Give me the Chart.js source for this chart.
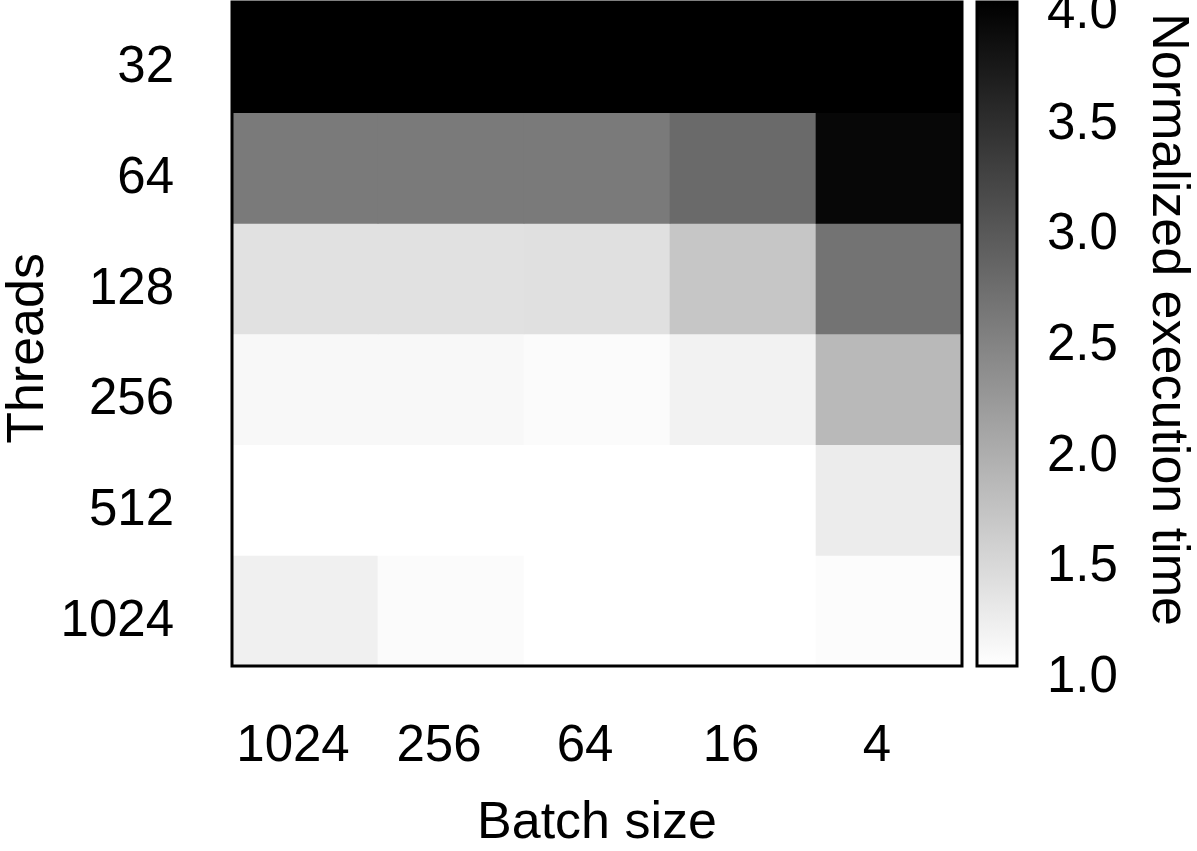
<!DOCTYPE html>
<html lang="en">
<head>
<meta charset="UTF-8">
<title>Normalized execution time</title>
<script src="https://cdn.jsdelivr.net/npm/chart.js"></script>
<style>
    html, body { margin: 0; padding: 0; background: #fff; }
    #wrap { position: relative; width: 1197px; height: 851px; overflow: hidden; }
    #heatCanvas { position: absolute; left: 0; top: 0; }
    #barCanvas { position: absolute; left: 965px; top: 0; }
</style>
</head>
<body>
<div id="wrap">
    <canvas id="heatCanvas" width="965" height="851" style="width:965px;height:851px"></canvas>
    <canvas id="barCanvas" width="232" height="851" style="width:232px;height:851px"></canvas>
</div>
<script>
// rows = threads (top to bottom), columns = batch size (left to right)
const threads = ['32', '64', '128', '256', '512', '1024'];
const batchSizes = ['1024', '256', '64', '16', '4'];

const time32   = [4.00, 4.00, 4.00, 4.00, 4.00];
const time64   = [2.56, 2.56, 2.57, 2.75, 3.92];
const time128  = [1.35, 1.35, 1.37, 1.67, 2.65];
const time256  = [1.08, 1.08, 1.05, 1.15, 1.82];
const time512  = [1.00, 1.00, 1.00, 1.00, 1.22];
const time1024 = [1.18, 1.05, 1.00, 1.00, 1.04];

const colorbarTicks = [1.0, 1.5, 2.0, 2.5, 3.0, 3.5, 4.0];
const vMin = 1.0, vMax = 4.0;

const rows = [time32, time64, time128, time256, time512, time1024];

const FONT = '"Liberation Sans", Arial, Helvetica, sans-serif';
Chart.defaults.font.family = FONT;
Chart.defaults.color = '#000';

const tickFont = { size: 51 };
const titleFont = { size: 52, lineHeight: 1.05 };

// white (low) -> black (high)
function grayFor(v) {
    const t = Math.min(1, Math.max(0, (v - vMin) / (vMax - vMin)));
    const g = Math.round(255 * (1 - t));
    return 'rgb(' + g + ',' + g + ',' + g + ')';
}

// no extra room for overhanging tick labels
function noPad(s) {
    s.paddingTop = 0;
    s.paddingBottom = 0;
    s.paddingLeft = 0;
    s.paddingRight = 0;
}

// black outline round the plot area
const frame = {
    id: 'frame',
    afterDatasetsDraw(chart) {
        const { ctx, chartArea: a } = chart;
        ctx.save();
        ctx.strokeStyle = '#000';
        ctx.lineWidth = 3;
        ctx.strokeRect(a.left, a.top, a.right - a.left, a.bottom - a.top);
        ctx.restore();
    }
};

const datasets = rows.map((vals, r) => ({
    label: threads[r] + ' threads',
    data: vals.map(() => [r, r + 1]),
    backgroundColor: vals.map(grayFor),
    borderWidth: 0,
    grouped: false,
    barPercentage: 1,
    categoryPercentage: 1
}));

new Chart(document.getElementById('heatCanvas'), {
    type: 'bar',
    data: { labels: batchSizes, datasets: datasets },
    options: {
        responsive: false,
        animation: false,
        layout: { padding: { top: 2, right: 3 } },
        plugins: { legend: { display: false }, tooltip: { enabled: false } },
        scales: {
            x: {
                grid: { display: false, drawTicks: false },
                border: { display: false },
                ticks: { font: tickFont, padding: 50, labelOffset: -12, maxRotation: 0 },
                title: { display: true, text: 'Batch size', font: titleFont, padding: 0 },
                afterFit(s) { s.height = 185; noPad(s); }
            },
            y: {
                type: 'linear',
                min: 0,
                max: threads.length,
                reverse: true,
                grid: { display: false, drawTicks: false },
                border: { display: false },
                afterBuildTicks(s) { s.ticks = threads.map((_, i) => ({ value: i + 0.5 })); },
                ticks: {
                    font: tickFont,
                    padding: 58,
                    labelOffset: 11,
                    callback: (v) => threads[Math.floor(v)]
                },
                title: { display: true, text: 'Threads  ', font: titleFont, padding: { top: 1, bottom: 0 } },
                afterFit(s) { s.width = 232; noPad(s); }
            }
        }
    },
    plugins: [frame]
});

new Chart(document.getElementById('barCanvas'), {
    type: 'bar',
    data: {
        labels: ['colorbar'],
        datasets: [{
            data: [[vMin, vMax]],
            backgroundColor(c) {
                const chart = c.chart;
                if (!chart.chartArea) return '#888';
                const y = chart.scales.y;
                const g = chart.ctx.createLinearGradient(0, y.getPixelForValue(vMin), 0, y.getPixelForValue(vMax));
                g.addColorStop(0, grayFor(vMin));
                g.addColorStop(1, grayFor(vMax));
                return g;
            },
            borderWidth: 0,
            barPercentage: 1,
            categoryPercentage: 1
        }]
    },
    options: {
        responsive: false,
        animation: false,
        layout: { padding: { left: 12, top: 2, bottom: 185 } },
        plugins: { legend: { display: false }, tooltip: { enabled: false } },
        scales: {
            x: { display: false },
            y: {
                position: 'right',
                min: vMin,
                max: vMax,
                grid: { display: false, drawTicks: false },
                border: { display: false },
                afterBuildTicks(s) { s.ticks = colorbarTicks.map(v => ({ value: v })); },
                ticks: {
                    font: tickFont,
                    padding: 30,
                    labelOffset: 12,
                    callback: (v) => Number(v).toFixed(1)
                },
                title: { display: true, text: 'Normalized execution time  ', font: titleFont, padding: { top: 2, bottom: 0 } },
                afterFit(s) { s.width = 180; noPad(s); }
            }
        }
    },
    plugins: [frame]
});
</script>
</body>
</html>
